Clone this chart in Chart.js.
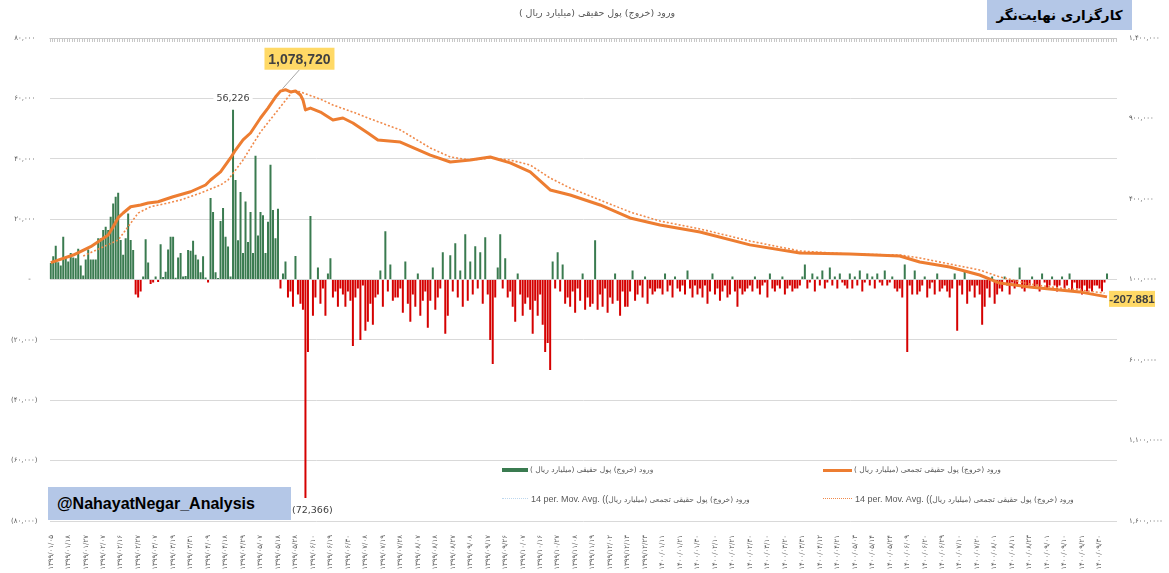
<!DOCTYPE html>
<html lang="fa">
<head>
<meta charset="UTF-8">
<title>ورود (خروج) پول حقیقی</title>
<script src="https://cdn.jsdelivr.net/npm/chart.js@4.4.0/dist/chart.umd.min.js"></script>
<style>
  html, body { margin: 0; padding: 0; background: #fff; }
  #wrap { position: relative; width: 1169px; height: 573px; overflow: hidden; font-family: "DejaVu Sans", sans-serif; }
  #chart { position: absolute; left: 0; top: 0; }
  .title { position: absolute; left: 597px; top: 7px; transform: translateX(-50%); font-size: 9.5px; color: #595959; white-space: nowrap; }
  .box { position: absolute; background: #b4c7e7; color: #000; font-weight: bold; white-space: nowrap; }
  #brand { left: 987px; top: 0; width: 145px; height: 30px; line-height: 30px; text-align: center; font-size: 13.5px; }
  #handle { left: 48px; top: 487px; width: 243px; height: 33px; line-height: 33px; padding-left: 9px; box-sizing: border-box; font-family: "Liberation Sans", Arial, sans-serif; font-size: 16px; }
  .sw { position: absolute; }
  .lt { position: absolute; font-size: 7.5px; color: #595959; white-space: nowrap; line-height: 12px; }
  .lt .lat { font-family: "Liberation Sans", Arial, sans-serif; font-size: 9px; }
</style>
</head>
<body>
<div id="wrap">
  <canvas id="chart" width="1169" height="573"></canvas>
  <div class="title" dir="rtl">ورود (خروج) پول حقیقی (میلیارد ریال )</div>
  <div class="box" id="brand" dir="rtl">کارگزاری نهایت‌نگر</div>
  <div class="box" id="handle">@NahayatNegar_Analysis</div>

  <div class="sw" style="left:502px; top:468px; width:26px; height:4px; background:#3a7b50;"></div>
  <div class="lt" dir="rtl" style="left:530px; top:464px;">ورود (خروج) پول حقیقی (میلیارد ریال )</div>
  <div class="sw" style="left:823px; top:469px; width:29px; height:3px; background:#ed7d31;"></div>
  <div class="lt" dir="rtl" style="left:854px; top:464px;">ورود (خروج) پول حقیقی تجمعی (میلیارد ریال )</div>

  <div class="sw" style="left:502px; top:498px; width:26px; border-top:1.5px dotted #bdd7ee;"></div>
  <div class="lt" style="left:531px; top:493px;"><span class="lat">14 per. Mov. Avg. ((</span><bdi dir="rtl">ورود (خروج) پول حقیقی تجمعی (میلیارد ریال</bdi></div>
  <div class="sw" style="left:823px; top:498px; width:29px; border-top:1.5px dotted #f08a4b;"></div>
  <div class="lt" style="left:855px; top:493px;"><span class="lat">14 per. Mov. Avg. ((</span><bdi dir="rtl">ورود (خروج) پول حقیقی تجمعی (میلیارد ریال</bdi></div>
</div>

<script>
// tick labels
const dateLabels = [
  '۱۳۹۹/۰۱/۰۵', '۱۳۹۹/۰۱/۱۸', '۱۳۹۹/۰۱/۲۷', '۱۳۹۹/۰۲/۰۷', '۱۳۹۹/۰۲/۱۶', '۱۳۹۹/۰۲/۲۷', '۱۳۹۹/۰۳/۰۷',
  '۱۳۹۹/۰۳/۱۹', '۱۳۹۹/۰۳/۳۱', '۱۳۹۹/۰۴/۰۹', '۱۳۹۹/۰۴/۱۸', '۱۳۹۹/۰۴/۲۹', '۱۳۹۹/۰۵/۰۷', '۱۳۹۹/۰۵/۱۸',
  '۱۳۹۹/۰۵/۲۸', '۱۳۹۹/۰۶/۱۰', '۱۳۹۹/۰۶/۱۹', '۱۳۹۹/۰۶/۳۰', '۱۳۹۹/۰۷/۰۸', '۱۳۹۹/۰۷/۱۹', '۱۳۹۹/۰۷/۲۸',
  '۱۳۹۹/۰۸/۰۷', '۱۳۹۹/۰۸/۱۸', '۱۳۹۹/۰۸/۲۷', '۱۳۹۹/۰۹/۰۸', '۱۳۹۹/۰۹/۱۷', '۱۳۹۹/۰۹/۲۶', '۱۳۹۹/۱۰/۰۷',
  '۱۳۹۹/۱۰/۱۶', '۱۳۹۹/۱۰/۲۷', '۱۳۹۹/۱۱/۰۸', '۱۳۹۹/۱۱/۱۹', '۱۳۹۹/۱۲/۰۲', '۱۳۹۹/۱۲/۱۳', '۱۳۹۹/۱۲/۲۳',
  '۱۴۰۰/۰۱/۱۱', '۱۴۰۰/۰۱/۲۱', '۱۴۰۰/۰۱/۳۰', '۱۴۰۰/۰۲/۱۰', '۱۴۰۰/۰۲/۲۱', '۱۴۰۰/۰۲/۳۰', '۱۴۰۰/۰۳/۱۰',
  '۱۴۰۰/۰۳/۲۰', '۱۴۰۰/۰۳/۳۱', '۱۴۰۰/۰۴/۱۲', '۱۴۰۰/۰۴/۲۱', '۱۴۰۰/۰۵/۰۳', '۱۴۰۰/۰۵/۱۴', '۱۴۰۰/۰۵/۲۴',
  '۱۴۰۰/۰۶/۰۹', '۱۴۰۰/۰۶/۲۰', '۱۴۰۰/۰۶/۲۹', '۱۴۰۰/۰۷/۱۰', '۱۴۰۰/۰۷/۲۰', '۱۴۰۰/۰۸/۰۱', '۱۴۰۰/۰۸/۱۱',
  '۱۴۰۰/۰۸/۲۳', '۱۴۰۰/۰۹/۰۱', '۱۴۰۰/۰۹/۱۰', '۱۴۰۰/۰۹/۲۱', '۱۴۰۰/۰۹/۳۰'
];
const labelStep = 7;   // one date label every 7 trading days
const leftTickLabels = ['(۸۰,۰۰۰)', '(۶۰,۰۰۰)', '(۴۰,۰۰۰)', '(۲۰,۰۰۰)', '-   ', '۲۰,۰۰۰ ', '۴۰,۰۰۰ ', '۶۰,۰۰۰ ', '۸۰,۰۰۰ '];
const rightTickLabels = ['۱,۶۰۰,۰۰۰-', '۱,۱۰۰,۰۰۰-', '۶۰۰,۰۰۰-', '۱۰۰,۰۰۰-', '۴۰۰,۰۰۰', '۹۰۰,۰۰۰', '۱,۴۰۰,۰۰۰'];

// daily net inflow of individuals (billion rials), one value per trading day
const netFlow = [
  5500, 7700, 11200, 5700, 4600, 14200, 7300, 6000, 8800, 7300,
  7000, 10200, 4600, 1300, 6600, 9900, 6600, 6600, 6600, 13700,
  13700, 16400, 17500, 16400, 20800, 25200, 27400, 28700, 13100, 8200,
  13700, 21900, 13100, 9800, -5000, -6000, -4000,
  1000, 13300, 5600, -1500, -1000, 1000, -800, 11700, 800, 2600,
  9900, 14200, 14200, 600, 7300, 8800, 1000, 1200, 9800, 9500,
  12800, 8200, 6600, 2400, 7700, 700, -1000, 27000, 22400, 2400,
  500, 19400, 23700, 14200, 10900, 1000,
  56226, 33000, 13000, 29000, 8800, 25800, 12400, 22400, 8800, 41000,
  14600, 22400, 21300, 8800, 19100, 38000, 23000, 13700, 23400,
  -3000, 2000, 6000, -6000, -4000, -9000, 7800, -5000, -8000, -10000,
  -72366, -24000, 21000, -12000, -6000, 4000,
  -8000, -3000, -12000, 2000, 7000, -6000, -4000, -9000, -3000,
  -5000, -9000, -4000, -7000, -22000, -6000, -3000, -20000, -2000, -17000,
  -14000, -8000, -15000, -6000,
  -5000, 3000, -9000, 16000, -4000, 5000, -7000, -6000, -6000,
  -3000, -11000, 6000, -8000, -14000, -5000, -9000, 2000, -12000, -7000, -4000, -16000,
  -7000, 4000, -10000, -6000, -3000, 9000, -18000, -12000,
  8000, -4000, 12000, -6000, 3000, -9000, 15000, -7000,
  6000, -5000, 11000, -3000, 9000, -8000, 14000, -5000,
  -20000, -28000, -6000, 4000, 15000, -3000, 7000, -6000,
  -4000, -9000, -14000, 2000, -5000, -12000, -8000, -6000,
  -10000, -18000, -7000, -12000, -5000, -15000, -24000, -21000,
  -30000, 6000, -3000, 9000, -4000, 5000, -8000, -6000,
  -9000, -4000, -11000, -3000, -7000, 2000, -10000, -6000, -9000, -8000, 13000, -10000,
  -5000, -9000, -3000, -11000, -6000, -8000, 2000, -7000, -12000, -4000, -9000, -9000,
  -4000, 3000, -7000, -5000, -2000, -6000, 1000, -8000, -3000, -5000, -4000, -3000,
  -3000, -5000, 2000, -4000, -2000, -6000, 1000, -3000, -4000, -2000, -5000, 3000, -3000, -6000, -2000, -5000,
  -3000, -6000, -2000, -8000, -4000, 2000, -5000, -3000, -7000, -4000,
  -2000, -6000, -5000, 1000, -4000, -9000, -3000, -5000, -4000, -3000,
  -2000, -4000, 1000, -3000, -5000, -2000, -1000, -6000, 2000, -3000,
  -4000, -2000, -3000, 1000, -5000, -3000, -2000, -4000, -3000, -3000,
  -2000, 1000, 5000, -3000, -1000, 2000, -4000, 1000, -2000, 3000,
  -3000, -1000, 4000, -2000, 1000, -3000, 2000, -1000, -2000, -3000,
  2000, -3000, 1000, -2000, 3000, -4000, -1000, 2000, -2000, 1000,
  -3000, 2000, -1000, -2000, 3000, -2000, -1000, 1000, -3000, -4000,
  -3000, -6000, 5000, -24000, -2000, -5000, 3000, -5000,
  -4000, -2000, 1000, -6000, -3000, -1000, -5000, 2000, -4000, -3000, -2000, -4000,
  -6000, -3000, 2000, -17000, -2000, -5000, 3000, -8000, -4000, -2000, -6000, -2000,
  -5000, -15000, -9000, -3000, -6000, 1000, -8000, -5000,
  -3000, -4000, 1000, -2000, -5000, -1000, -3000, -2000, 4000, -3000, -4000, -2000,
  -2000, 1000, -3000, -2000, -4000, 2000, -1000, -3000, -2000, 1000, -2000, -4000,
  -2000, 1000, -3000, -2000, 2000, -4000, -1000, -3000,
  -3000, -5000, -2000, -4000, -3000, -4000, -2000, -2000, -3000, -4000, -1000, 2000
];

// cumulative net inflow (day index, value)
const cumIdx = [0, 9, 16, 23, 25, 27, 29, 32, 36, 39, 43, 49, 56, 62, 64, 68, 72, 74, 77, 80,
  84, 87, 90, 92, 94, 96, 98, 100, 101, 102, 104, 108, 113, 117, 121, 127, 131, 140, 152, 160,
  168, 176, 184, 192, 200, 208, 220, 232, 244, 260, 280, 300, 320, 340, 348, 360, 372, 380, 392, 404,
  412, 423];
const cumVal = [5000, 52000, 104000, 176000, 228000, 284000, 313000, 352000, 363000, 375000,
  383000, 414000, 445000, 487000, 518000, 568000, 655000, 704000, 767000, 810000,
  903000, 965000, 1033000, 1070000, 1078720, 1065000, 1071000, 1046000, 1015000, 953000,
  965000, 940000, 891000, 903000, 872000, 810000, 767000, 754000, 673000, 630000,
  642000, 661000, 624000, 568000, 456000, 425000, 363000, 282000, 239000, 195000,
  115000, 65000, 58000, 46000, 9000, -22000, -72000, -122000, -146000, -165000,
  -177000, -207881];

// 14-day moving average of the cumulative series
const maIdx = [13, 27, 31, 35, 40, 47, 52, 60, 68, 71, 77, 80, 84, 91, 97, 100, 108, 113, 121, 127,
  140, 152, 160, 168, 176, 184, 192, 200, 208, 220, 232, 244, 260, 280, 300, 320, 340, 348, 360, 372,
  380, 392, 404, 412, 422];
const maVal = [46000, 145000, 228000, 313000, 352000, 375000, 394000, 437000, 487000, 518000,
  642000, 717000, 816000, 953000, 1071000, 1065000, 1020000, 984000, 940000, 903000,
  829000, 717000, 661000, 642000, 655000, 642000, 611000, 530000, 468000, 394000,
  319000, 263000, 214000, 139000, 77000, 58000, 52000, 34000, -4000, -41000,
  -84000, -128000, -153000, -165000, -184000];

Chart.defaults.font.family = '"DejaVu Sans", sans-serif';

const fmt = v => Math.abs(v).toLocaleString('en-US');

// secondary category axis at the top: a tick mark for every day
const topTicks = {
  id: 'topTicks',
  beforeDatasetsDraw(chart) {
    const { ctx, chartArea, scales } = chart;
    ctx.save();
    ctx.strokeStyle = '#c8c8c8';
    ctx.lineWidth = 1;
    ctx.beginPath();
    ctx.moveTo(chartArea.left, chartArea.top + 0.5);
    ctx.lineTo(chartArea.right, chartArea.top + 0.5);
    for (let i = 0; i <= scales.x.max + 0.5; i++) {
      const x = Math.round(scales.x.getPixelForValue(i - 0.5)) + 0.5;
      ctx.moveTo(x, chartArea.top);
      ctx.lineTo(x, chartArea.top + 4);
    }
    ctx.stroke();
    ctx.restore();
  }
};

// data labels and call-outs
const notes = {
  id: 'notes',
  afterDatasetsDraw(chart) {
    const { ctx } = chart;
    const bars = chart.getDatasetMeta(2).data;
    const cum = chart.getDatasetMeta(0).data;
    const iMax = netFlow.indexOf(Math.max(...netFlow));
    const iMin = netFlow.indexOf(Math.min(...netFlow));
    ctx.save();
    ctx.textAlign = 'center';
    ctx.textBaseline = 'middle';

    ctx.font = '9.5px "DejaVu Sans"';
    const t1 = fmt(netFlow[iMax]);
    const b1 = bars[iMax];
    let w = ctx.measureText(t1).width + 6;
    ctx.fillStyle = '#fff';
    ctx.fillRect(b1.x - w / 2, b1.y - 17, w, 12);
    ctx.fillStyle = '#404040';
    ctx.fillText(t1, b1.x, b1.y - 11);

    const t2 = '(' + fmt(netFlow[iMin]) + ')';
    const b2 = bars[iMin];
    ctx.textAlign = 'left';
    ctx.fillText(t2, 292, b2.y + 13);
    ctx.textAlign = 'center';

    // peak of cumulative line
    const kPeak = cumVal.indexOf(Math.max(...cumVal));
    const p = cum[kPeak];
    const bx = p.x + 14, by = p.y - 31;
    ctx.strokeStyle = '#a6a6a6';
    ctx.lineWidth = 1;
    ctx.beginPath();
    ctx.moveTo(bx, by + 11);
    ctx.lineTo(p.x - 3, p.y - 1);
    ctx.stroke();
    ctx.fillStyle = '#ffd966';
    ctx.fillRect(bx - 35, by - 11, 70, 22);
    ctx.fillStyle = '#404040';
    ctx.font = 'bold 14px "Liberation Sans", Arial, sans-serif';
    ctx.fillText(fmt(cumVal[kPeak]), bx, by + 1);

    // last value of cumulative line
    const q = cum[cum.length - 1];
    const last = cumVal[cumVal.length - 1];
    const lx = q.x + 25, ly = q.y + 2;
    ctx.fillStyle = '#ffd966';
    ctx.fillRect(lx - 23, ly - 8, 46, 16);
    ctx.fillStyle = '#404040';
    ctx.font = 'bold 11.5px "Liberation Sans", Arial, sans-serif';
    ctx.fillText((last < 0 ? '-' : '') + fmt(last).replace(',', '.'), lx, ly + 0.5);
    ctx.restore();
  }
};

new Chart(document.getElementById('chart'), {
  type: 'bar',
  data: {
    datasets: [
      {
        type: 'line',
        label: 'ورود (خروج) پول حقیقی تجمعی (میلیارد ریال )',
        data: cumIdx.map((x, k) => ({ x, y: cumVal[k] })),
        yAxisID: 'y2',
        borderColor: '#ed7d31',
        borderWidth: 3,
        borderJoinStyle: 'round',
        pointRadius: 0,
        order: 0
      },
      {
        type: 'line',
        label: '14 per. Mov. Avg.',
        data: maIdx.map((x, k) => ({ x, y: maVal[k] })),
        yAxisID: 'y2',
        borderColor: '#f08a4b',
        borderWidth: 1.6,
        borderDash: [2, 2],
        pointRadius: 0,
        order: 1
      },
      {
        type: 'bar',
        label: 'ورود (خروج) پول حقیقی (میلیارد ریال )',
        data: netFlow.map((y, x) => ({ x, y })),
        yAxisID: 'y',
        backgroundColor: netFlow.map(v => v >= 0 ? '#3a7b50' : '#d50000'),
        barPercentage: 0.8,
        categoryPercentage: 1,
        order: 2
      }
    ]
  },
  options: {
    responsive: false,
    animation: false,
    layout: { padding: { top: 38, left: 0, right: 0, bottom: 0 } },
    plugins: { legend: { display: false }, tooltip: { enabled: false } },
    scales: {
      x: {
        type: 'linear',
        min: -0.5,
        max: 427,
        offset: false,
        afterBuildTicks: s => { s.ticks = dateLabels.map((_, k) => ({ value: k * labelStep })); },
        afterFit: s => { s.height = 52; },
        ticks: {
          autoSkip: false,
          minRotation: 90,
          maxRotation: 90,
          padding: 14,
          color: '#595959',
          font: { size: 7 },
          callback: (v, i) => dateLabels[i]
        },
        grid: { display: false, drawTicks: false, offset: false },
        border: { display: false }
      },
      y: {
        position: 'left',
        min: -80000,
        max: 80000,
        afterFit: s => { s.width = 49.5; },
        ticks: {
          stepSize: 20000,
          padding: 12,
          color: '#595959',
          font: { size: 7 },
          callback: (v, i) => leftTickLabels[i]
        },
        grid: {
          drawTicks: false,
          color: c => (c.tick && c.tick.value === 80000) ? 'rgba(0,0,0,0)' : '#d9d9d9'
        },
        border: { display: false }
      },
      y2: {
        position: 'right',
        min: -1600000,
        max: 1400000,
        afterFit: s => { s.width = 52; },
        ticks: {
          stepSize: 500000,
          padding: 12,
          color: '#595959',
          font: { size: 7 },
          callback: (v, i) => rightTickLabels[i]
        },
        grid: { drawOnChartArea: false, drawTicks: false },
        border: { display: false }
      }
    }
  },
  plugins: [topTicks, notes]
});
</script>
</body>
</html>
